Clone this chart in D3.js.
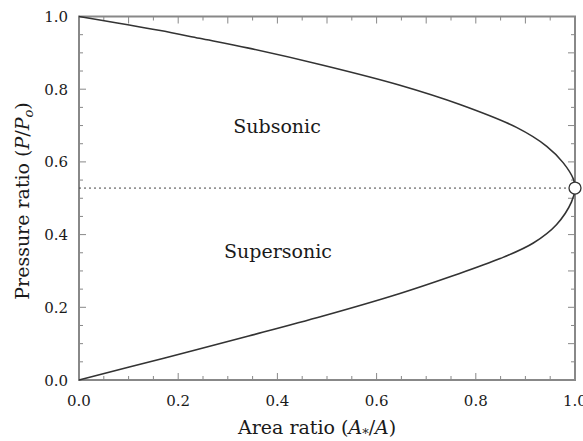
<!DOCTYPE html>
<meta charset="utf-8">
<body style="margin:0;background:#fff">
<style>
    text { font-family: "DejaVu Serif", serif; fill: #1a1a1a; }
    .frame line { stroke: #888; stroke-width: 2px; }
    .ticks line { stroke: #888; stroke-width: 1px; }
    .curve { fill: none; stroke: #333; stroke-width: 1.6px; }
    .sonic { fill: none; stroke: #444; stroke-width: 1px; stroke-dasharray: 2,3; }
</style>
<script src="https://d3js.org/d3.v7.min.js"></script>
<script>
// values (area ratio A*/A, pressure ratio P/Po)
var subsonicArea     = [0, 0.161, 0.243, 0.342, 0.492, 0.647, 0.768, 0.882, 0.943, 0.976, 0.997, 1.0];
var subsonicPressure = [1.0, 0.962, 0.940, 0.913, 0.866, 0.811, 0.758, 0.695, 0.643, 0.598, 0.552, 0.528];
var supersonicArea     = [1.0, 0.993, 0.963, 0.916, 0.849, 0.748, 0.647, 0.492, 0.342, 0.171, 0];
var supersonicPressure = [0.528, 0.490, 0.428, 0.377, 0.334, 0.284, 0.238, 0.176, 0.121, 0.060, 0];
var criticalPressure = 0.528;
var tickValues = [0, 0.2, 0.4, 0.6, 0.8, 1.0];

var W = 583, H = 441;
var margin = {top: 16.5, right: 8, bottom: 61, left: 79};

var svg = d3.select("body").append("svg")
    .attr("width", W).attr("height", H);

var x = d3.scaleLinear().domain([0, 1]).range([margin.left, W - margin.right]);
var y = d3.scaleLinear().domain([0, 1]).range([H - margin.bottom, margin.top]);

// whole curve: subsonic branch, through the sonic point, then the supersonic branch
var pts = [];
subsonicArea.forEach(function(a, i) { pts.push([a, subsonicPressure[i]]); });
supersonicArea.slice(1).forEach(function(a, i) { pts.push([a, supersonicPressure[i + 1]]); });

var line = d3.line()
    .x(function(d) { return x(d[0]); })
    .y(function(d) { return y(d[1]); })
    .curve(d3.curveCatmullRom.alpha(0.5));

// ticks, drawn inward on all four sides
var minor = d3.range(0, 1.0001, 0.05);
var t = svg.append("g").attr("class", "ticks");
function isMul(v, s) { return Math.abs(Math.round(v / s) * s - v) < 1e-6; }
minor.forEach(function(v) {
    var lb = isMul(v, 0.2) ? 7 : 4;   // bottom and left
    var lt = isMul(v, 0.1) ? 7 : 4;   // top and right
    t.append("line").attr("x1", x(v)).attr("x2", x(v)).attr("y1", y(0)).attr("y2", y(0) - lb);
    t.append("line").attr("x1", x(v)).attr("x2", x(v)).attr("y1", y(1)).attr("y2", y(1) + lt);
    t.append("line").attr("y1", y(v)).attr("y2", y(v)).attr("x1", x(0)).attr("x2", x(0) + lb);
    t.append("line").attr("y1", y(v)).attr("y2", y(v)).attr("x1", x(1)).attr("x2", x(1) - lt);
});

var f = svg.append("g").attr("class", "frame");
f.append("line").attr("x1", x(0) - 1).attr("x2", x(1) + 1).attr("y1", y(0)).attr("y2", y(0));
f.append("line").attr("x1", x(0) - 1).attr("x2", x(1) + 1).attr("y1", y(1)).attr("y2", y(1));
f.append("line").attr("x1", x(0)).attr("x2", x(0)).attr("y1", y(0)).attr("y2", y(1));
f.append("line").attr("x1", x(1)).attr("x2", x(1)).attr("y1", y(0)).attr("y2", y(1));

// tick labels
svg.append("g").selectAll("text").data(tickValues).enter().append("text")
    .attr("x", function(d) { return x(d); })
    .attr("y", y(0) + 26)
    .attr("text-anchor", "middle")
    .style("font-size", "15px")
    .text(function(d) { return d.toFixed(1); });
svg.append("g").selectAll("text").data(tickValues).enter().append("text")
    .attr("x", x(0) - 11)
    .attr("y", function(d) { return y(d) + 5.5; })
    .attr("text-anchor", "end")
    .style("font-size", "15px")
    .text(function(d) { return d.toFixed(1); });

// sonic line and point
svg.append("line").attr("class", "sonic")
    .attr("x1", x(0)).attr("x2", x(1))
    .attr("y1", y(criticalPressure)).attr("y2", y(criticalPressure));

svg.append("path").datum(pts).attr("class", "curve").attr("d", line);

svg.append("circle")
    .attr("cx", x(1)).attr("cy", y(criticalPressure)).attr("r", 6)
    .attr("fill", "#fff").attr("stroke", "#333").attr("stroke-width", 1.3);

// region labels
svg.append("text").attr("x", 277).attr("y", 133).attr("text-anchor", "middle")
    .style("font-size", "19px").text("Subsonic");
svg.append("text").attr("x", 278).attr("y", 258).attr("text-anchor", "middle")
    .style("font-size", "19px").text("Supersonic");

// axis titles
var xt = svg.append("text").attr("x", 238).attr("y", 434)
    .attr("text-anchor", "start").style("font-size", "19px");
xt.append("tspan").text("Area ratio (");
xt.append("tspan").style("font-style", "italic").text("A");
xt.append("tspan").attr("dy", 4).style("font-size", "13px").text("*");
xt.append("tspan").attr("dy", -4).text("/");
xt.append("tspan").style("font-style", "italic").text("A");
xt.append("tspan").text(")");

var yt = svg.append("text")
    .attr("transform", "translate(29,201) rotate(-90)")
    .attr("text-anchor", "middle").style("font-size", "19px");
yt.append("tspan").text("Pressure ratio (");
yt.append("tspan").style("font-style", "italic").text("P");
yt.append("tspan").text("/");
yt.append("tspan").style("font-style", "italic").text("P");
yt.append("tspan").attr("dy", 4).style("font-size", "13px").style("font-style", "italic").text("o");
yt.append("tspan").attr("dy", -4).text(")");
</script>
